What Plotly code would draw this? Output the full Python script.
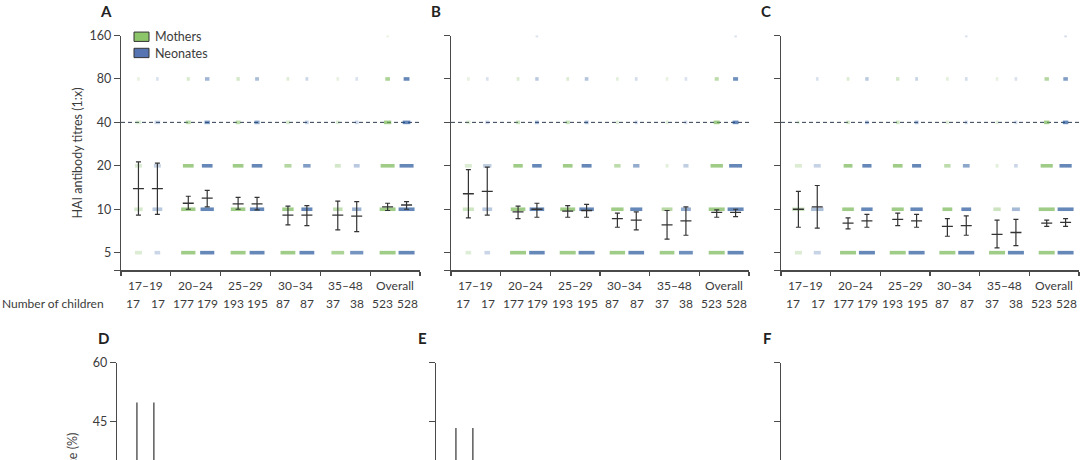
import math
import plotly.graph_objects as go

W, H = 1080, 460

groups = ["17–19", "20–24", "25–29", "30–34", "35–48", "Overall"]
titres = [5, 10, 20, 40, 80, 160]
threshold = 40
n_mothers = [17, 177, 193, 87, 37, 523]
n_neonates = [17, 179, 195, 87, 38, 528]

# children per titre (5, 10, 20, 40, 80, 160), one row per age group
a_mothers_counts = [[4, 5, 4, 3, 1, 0], [60, 60, 40, 12, 5, 0], [68, 65, 42, 12, 6, 0],
                    [38, 27, 14, 5, 3, 0], [16, 11, 6, 3, 1, 0], [190, 172, 108, 36, 16, 1]]
a_neonates_counts = [[3, 6, 4, 3, 1, 0], [60, 55, 40, 14, 10, 0], [68, 64, 42, 13, 8, 0],
                     [38, 26, 15, 5, 3, 0], [17, 11, 6, 3, 1, 0], [190, 166, 109, 39, 24, 0]]
b_mothers_counts = [[3, 7, 4, 2, 1, 0], [70, 62, 33, 8, 4, 0], [76, 68, 36, 9, 4, 0],
                    [40, 30, 12, 3, 2, 0], [19, 13, 2, 2, 1, 0], [213, 184, 89, 25, 12, 0]]
b_neonates_counts = [[3, 6, 5, 2, 1, 0], [68, 62, 34, 8, 6, 1], [76, 66, 38, 8, 7, 0],
                     [41, 29, 12, 3, 2, 0], [18, 12, 5, 2, 1, 0], [210, 179, 96, 24, 18, 1]]
c_mothers_counts = [[4, 8, 4, 1, 0, 0], [92, 45, 30, 6, 4, 0], [94, 50, 36, 7, 6, 0],
                    [48, 22, 12, 3, 2, 0], [24, 8, 2, 2, 1, 0], [266, 137, 86, 20, 14, 0]]
c_neonates_counts = [[4, 8, 4, 0, 1, 0], [90, 44, 32, 7, 6, 0], [98, 52, 33, 8, 4, 0],
                     [46, 22, 13, 3, 2, 1], [23, 9, 3, 2, 1, 0], [265, 138, 87, 21, 15, 2]]

# geometric mean titres with 95% CI
a_mothers_gmt = [13.9, 11.0, 10.9, 9.1, 9.1, 10.4]
a_mothers_lo = [9.1, 10.0, 10.0, 7.8, 7.2, 9.8]
a_mothers_hi = [21.3, 12.3, 12.1, 10.5, 11.4, 11.0]
a_neonates_gmt = [13.9, 11.95, 10.9, 9.1, 8.95, 10.7]
a_neonates_lo = [9.2, 10.4, 9.9, 7.7, 7.0, 10.0]
a_neonates_hi = [20.9, 13.5, 12.1, 10.6, 11.3, 11.3]

b_mothers_gmt = [12.8, 9.6, 9.7, 8.6, 7.8, 9.5]
b_mothers_lo = [8.7, 8.6, 8.8, 7.5, 6.2, 8.8]
b_mothers_hi = [18.8, 10.5, 10.6, 9.4, 9.8, 9.9]
b_neonates_gmt = [13.3, 10.0, 9.8, 8.4, 8.3, 9.5]
b_neonates_lo = [9.1, 8.8, 8.8, 7.2, 6.6, 8.9]
b_neonates_hi = [19.6, 11.0, 10.8, 9.6, 10.4, 10.0]

c_mothers_gmt = [10.0, 8.0, 8.5, 7.6, 6.7, 8.0]
c_mothers_lo = [7.5, 7.3, 7.7, 6.5, 5.4, 7.6]
c_mothers_hi = [13.3, 8.7, 9.4, 8.6, 8.4, 8.4]
c_neonates_gmt = [10.4, 8.3, 8.3, 7.7, 6.9, 8.1]
c_neonates_lo = [7.4, 7.5, 7.5, 6.6, 5.6, 7.6]
c_neonates_hi = [14.6, 9.2, 9.2, 9.0, 8.5, 8.6]

# seroprevalence (%) with 95% CI, panels D-F
d_mothers_est = [23.5, 9.6, 9.3, 9.2, 10.8, 10.0]
d_mothers_lo = [6.8, 5.7, 5.6, 4.0, 3.0, 7.6]
d_mothers_hi = [49.9, 15.0, 14.2, 17.3, 25.4, 12.9]
d_neonates_est = [23.5, 13.4, 10.8, 9.2, 10.5, 11.9]
d_neonates_lo = [6.8, 8.8, 6.9, 4.0, 2.9, 9.3]
d_neonates_hi = [49.9, 19.3, 16.1, 17.3, 24.8, 14.9]

e_mothers_est = [17.6, 6.8, 6.7, 5.7, 8.1, 7.1]
e_mothers_lo = [3.8, 3.6, 3.6, 1.9, 1.7, 5.0]
e_mothers_hi = [43.4, 11.5, 11.2, 12.9, 21.9, 9.6]
e_neonates_est = [17.6, 8.4, 7.7, 5.7, 7.9, 8.1]
e_neonates_lo = [3.8, 4.8, 4.4, 1.9, 1.7, 5.9]
e_neonates_hi = [43.4, 13.4, 12.4, 12.9, 21.4, 10.7]

f_mothers_est = [5.9, 5.6, 6.7, 5.7, 8.1, 6.5]
f_mothers_lo = [0.1, 2.7, 3.6, 1.9, 1.7, 4.5]
f_mothers_hi = [28.7, 10.1, 11.2, 12.9, 21.9, 8.9]
f_neonates_est = [5.9, 7.3, 6.2, 6.9, 7.9, 7.2]
f_neonates_lo = [0.1, 3.9, 3.2, 2.6, 1.7, 5.2]
f_neonates_hi = [28.7, 12.1, 10.5, 14.4, 21.4, 9.8]

INK = "#333333"
AXIS = "#4a4a4a"
TXT = "#3c3c3c"
FONT = "Lato"
GREEN = (112, 180, 76)
BLUE = (26, 78, 150)
OFF_M, OFF_N = -0.15, 0.23
LBL_M, LBL_N = -0.25, 0.24
EW = 1.4  # plotly draws line-ew markers 1.4x their size


def px(x):
    return x / W


def py(y):
    return 1 - y / H


fig = go.Figure()


def add_clusters(xa, ya, counts, totals, off, rgb):
    xs, ys, sizes, cols = [], [], [], []
    for g, (row, n) in enumerate(zip(counts, totals)):
        for t, c in zip(titres, row):
            if c == 0:
                continue
            xs.append(g + off)
            ys.append(t)
            w = 0.5 + 0.9 * math.sqrt(c) + 20 * c / n
            sizes.append(min(16, max(2.6, w)) / EW)
            a = min(0.95, 0.2 + c / 26)
            cols.append(f"rgba({rgb[0]},{rgb[1]},{rgb[2]},{a:.2f})")
    fig.add_trace(go.Scatter(x=xs, y=ys, xaxis=xa, yaxis=ya, mode="markers",
                             marker=dict(symbol="line-ew", size=sizes, line=dict(width=3.6, color=cols)),
                             hoverinfo="skip", showlegend=False))


def add_ci(xa, ya, off, mid, lo, hi, cap, tick):
    fig.add_trace(go.Scatter(
        x=[g + off for g in range(len(mid))], y=mid, xaxis=xa, yaxis=ya, mode="markers",
        marker=dict(symbol="line-ew", size=tick / EW, line=dict(width=1.3, color=INK)),
        error_y=dict(type="data", symmetric=False,
                     array=[h - m for h, m in zip(hi, mid)],
                     arrayminus=[m - l for m, l in zip(mid, lo)],
                     width=cap, thickness=1.2, color=INK),
        hoverinfo="skip", showlegend=False))


y_top = math.log10(160)
y_bot = math.log10(5) - (267 - 249) / 44.2 * math.log10(2)

top_panels = [
    ("A", (121, 420), a_mothers_counts, a_neonates_counts,
     (a_mothers_gmt, a_mothers_lo, a_mothers_hi), (a_neonates_gmt, a_neonates_lo, a_neonates_hi)),
    ("B", (451, 749), b_mothers_counts, b_neonates_counts,
     (b_mothers_gmt, b_mothers_lo, b_mothers_hi), (b_neonates_gmt, b_neonates_lo, b_neonates_hi)),
    ("C", (781, 1079), c_mothers_counts, c_neonates_counts,
     (c_mothers_gmt, c_mothers_lo, c_mothers_hi), (c_neonates_gmt, c_neonates_lo, c_neonates_hi)),
]
bottom_panels = [
    ("D", (117, 416), (d_mothers_est, d_mothers_lo, d_mothers_hi), (d_neonates_est, d_neonates_lo, d_neonates_hi)),
    ("E", (436, 735), (e_mothers_est, e_mothers_lo, e_mothers_hi), (e_neonates_est, e_neonates_lo, e_neonates_hi)),
    ("F", (781, 1080), (f_mothers_est, f_mothers_lo, f_mothers_hi), (f_neonates_est, f_neonates_lo, f_neonates_hi)),
]

layout = {}
annotations = []
bounds = [i - 0.5 for i in range(len(groups) + 1)]

for i, (letter, (x0, x1), cm, cn, gm, gn) in enumerate(top_panels):
    k = i + 1
    xa, ya = f"x{k}", f"y{k}"
    fig.add_trace(go.Scatter(x=[bounds[0], bounds[-1]], y=[threshold, threshold], xaxis=xa, yaxis=ya,
                             mode="lines", line=dict(color="#2e3d52", width=1, dash="4px,3px"),
                             hoverinfo="skip", showlegend=False))
    add_clusters(xa, ya, cm, n_mothers, OFF_M, GREEN)
    add_clusters(xa, ya, cn, n_neonates, OFF_N, BLUE)
    add_ci(xa, ya, OFF_M, *gm, cap=2.5, tick=11)
    add_ci(xa, ya, OFF_N, *gn, cap=2.5, tick=11)

    layout[f"xaxis{k}"] = dict(domain=[px(x0), px(x1)], range=[bounds[0], bounds[-1]], anchor=ya,
                               tickvals=bounds, ticktext=[""] * len(bounds), ticks="outside", ticklen=4,
                               tickwidth=1.1, tickcolor=AXIS, showline=True, linecolor=AXIS, linewidth=1.2,
                               showgrid=False, zeroline=False, fixedrange=True)
    layout[f"yaxis{k}"] = dict(domain=[py(267), py(28)], type="log", range=[y_bot, y_top], anchor=xa,
                               tickvals=titres + [10 ** (y_bot + 0.002)],
                               ticktext=[str(t) for t in titres] + [""],
                               showticklabels=(i == 0), ticks="outside", ticklen=6, tickwidth=1.1,
                               tickcolor=AXIS, showline=True, linecolor=AXIS, linewidth=1.2,
                               showgrid=False, zeroline=False, fixedrange=True,
                               tickfont=dict(family=FONT, size=12.5, color=TXT))
    annotations.append(dict(text=f"<b>{letter}</b>", x=px(x0 - 15), y=py(3), xref="paper", yref="paper",
                            xanchor="center", yanchor="middle", showarrow=False,
                            font=dict(family=FONT, size=15, color="#222")))
    for g, name in enumerate(groups):
        annotations.append(dict(text=name, x=g, y=py(282), xref=xa, yref="paper",
                                xanchor="center", yanchor="middle", showarrow=False,
                                font=dict(family=FONT, size=12, color=TXT)))
        for off, cnt in ((LBL_M, n_mothers[g]), (LBL_N, n_neonates[g])):
            annotations.append(dict(text=str(cnt), x=g + off, y=py(301), xref=xa, yref="paper",
                                    xanchor="center", yanchor="middle", showarrow=False,
                                    font=dict(family=FONT, size=12, color=TXT)))

for i, (letter, (x0, x1), sm, sn) in enumerate(bottom_panels):
    k = i + 4
    xa, ya = f"x{k}", f"y{k}"
    add_ci(xa, ya, -0.1, *sm, cap=0, tick=9)
    add_ci(xa, ya, 0.24, *sn, cap=0, tick=9)
    layout[f"xaxis{k}"] = dict(domain=[px(x0), px(x1)], range=[bounds[0], bounds[-1]], anchor=ya,
                               visible=False, fixedrange=True)
    layout[f"yaxis{k}"] = dict(domain=[0, py(361)], range=[60 - (460 - 361) / 4.0, 60], anchor=xa,
                               tickvals=[30, 45, 60], showticklabels=(i == 0), ticks="outside", ticklen=6,
                               tickwidth=1.1, tickcolor=AXIS, showline=True, linecolor=AXIS, linewidth=1.2,
                               showgrid=False, zeroline=False, fixedrange=True,
                               tickfont=dict(family=FONT, size=12.5, color=TXT))
    annotations.append(dict(text=f"<b>{letter}</b>", x=px(x0 - 14), y=py(336), xref="paper", yref="paper",
                            xanchor="center", yanchor="middle", showarrow=False,
                            font=dict(family=FONT, size=15, color="#222")))

annotations += [
    dict(text="HAI antibody titres (1:x)", x=px(77), y=py(148), xref="paper", yref="paper", textangle=-90,
         xanchor="center", yanchor="middle", showarrow=False, font=dict(family=FONT, size=12.5, color=TXT)),
    dict(text="Seroprevalence (%)", x=px(73), y=py(430), xref="paper", yref="paper", textangle=-90,
         xanchor="center", yanchor="top", showarrow=False, font=dict(family=FONT, size=12.5, color=TXT)),
    dict(text="Number of children", x=0, y=py(301), xref="paper", yref="paper",
         xanchor="left", yanchor="middle", showarrow=False, font=dict(family=FONT, size=12, color=TXT)),
    dict(text="Mothers", x=px(153), y=py(29.5), xref="paper", yref="paper",
         xanchor="left", yanchor="middle", showarrow=False, font=dict(family=FONT, size=12.5, color=TXT)),
    dict(text="Neonates", x=px(153), y=py(46), xref="paper", yref="paper",
         xanchor="left", yanchor="middle", showarrow=False, font=dict(family=FONT, size=12.5, color=TXT)),
]

shapes = [
    dict(type="rect", xref="paper", yref="paper", x0=px(134), x1=px(149), y0=py(34), y1=py(24.5),
         fillcolor="#8dc56a", line=dict(color=INK, width=1)),
    dict(type="rect", xref="paper", yref="paper", x0=px(134), x1=px(149), y0=py(50.5), y1=py(41),
         fillcolor="#5574b1", line=dict(color=INK, width=1)),
]

fig.update_layout(width=W, height=H, margin=dict(l=0, r=0, t=0, b=0), paper_bgcolor="white",
                  plot_bgcolor="white", showlegend=False, annotations=annotations, shapes=shapes,
                  font=dict(family=FONT, color=TXT), hovermode=False, dragmode=False, **layout)

# drop the default page margin so the figure sits at the window's corner
fig.write_html("out.html", config={"displayModeBar": False, "staticPlot": True},
               post_script="document.body.style.margin='0';"
                           "document.body.style.overflow='hidden';")
